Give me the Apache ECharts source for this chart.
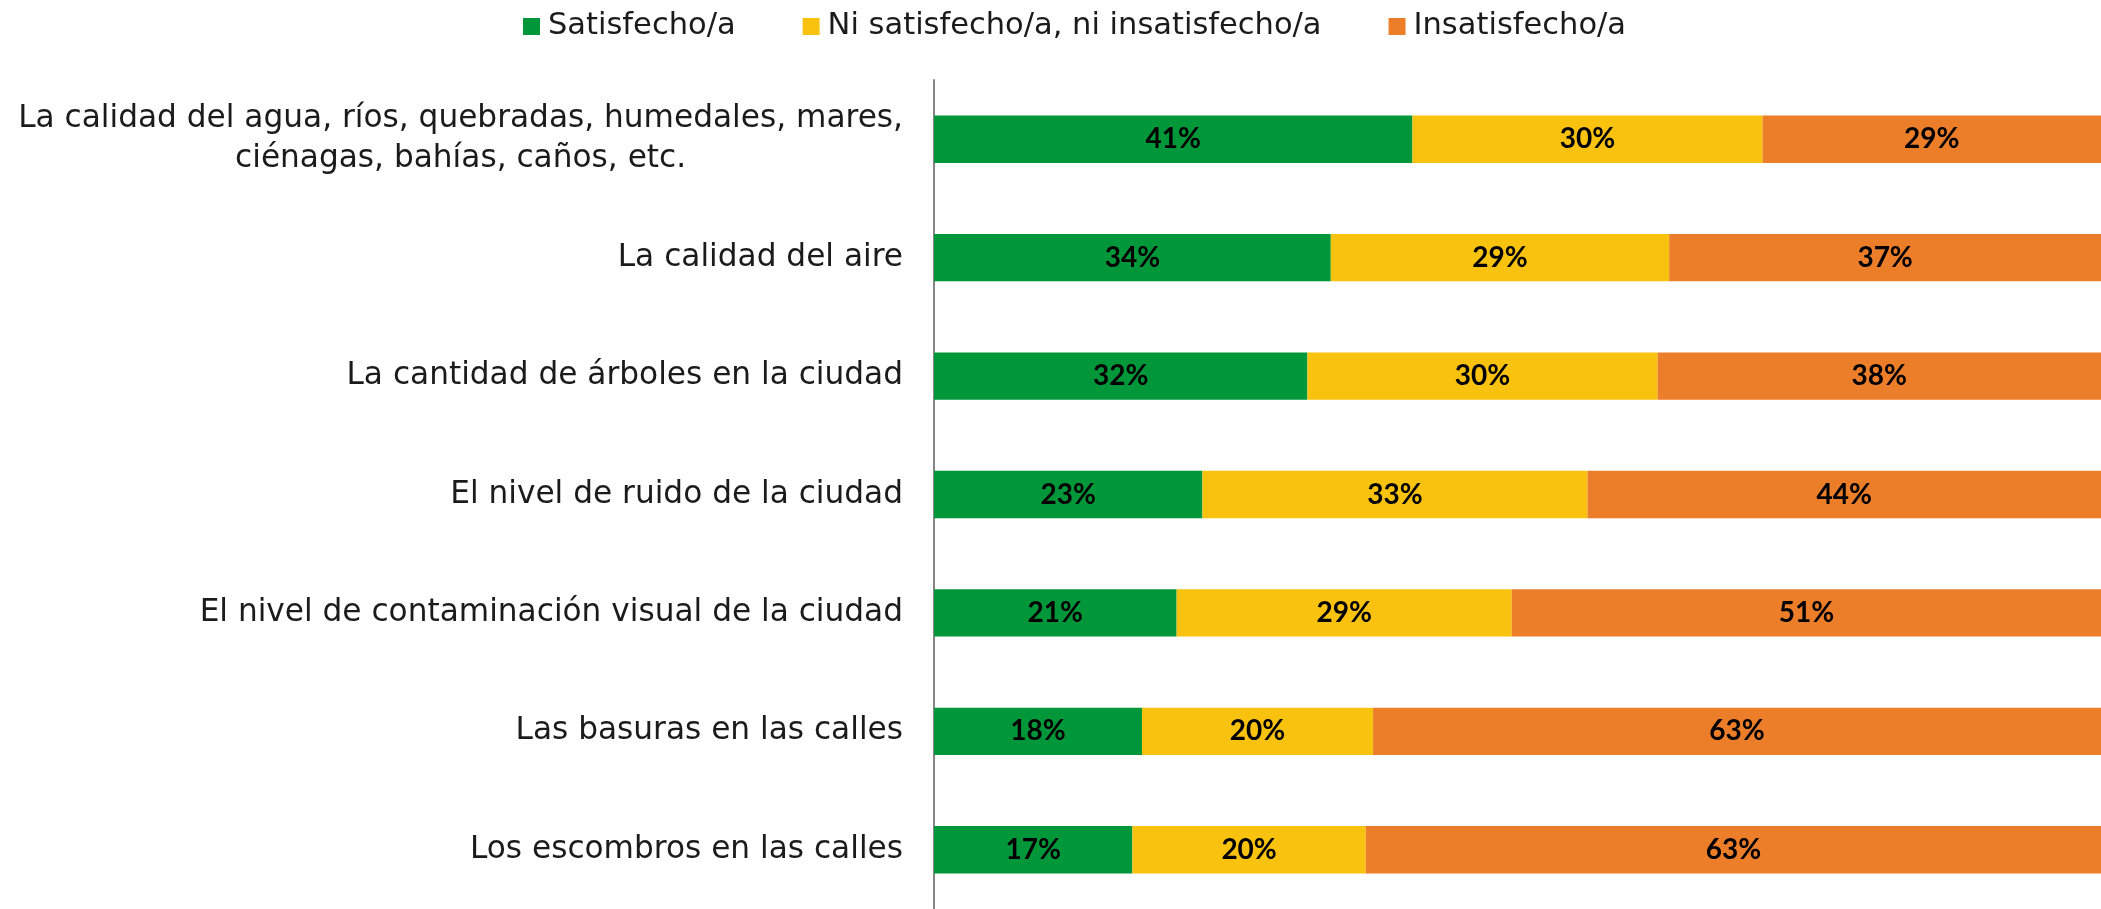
<!DOCTYPE html>
<html>
<head>
<meta charset="utf-8">
<script src="https://cdn.jsdelivr.net/npm/echarts@6/dist/echarts.min.js"></script>
<style>
  html, body { margin: 0; padding: 0; background: #ffffff; }
  #chart { width: 2101px; height: 909px; }
</style>
</head>
<body>
<div id="chart"></div>
<script>
// Satisfaction with environmental aspects of the city (percent of respondents)
const categories = [
  'La calidad del agua, ríos, quebradas, humedales, mares,\nciénagas, bahías, caños, etc.',
  'La calidad del aire',
  'La cantidad de árboles en la ciudad',
  'El nivel de ruido de la ciudad',
  'El nivel de contaminación visual de la ciudad',
  'Las basuras en las calles',
  'Los escombros en las calles'
];
const seriesNames = ['Satisfecho/a', 'Ni satisfecho/a, ni insatisfecho/a', 'Insatisfecho/a'];
const satisfecho    = [41, 34, 32, 23, 21, 18, 17];
const neutral       = [30, 29, 30, 33, 29, 20, 20];
const insatisfecho  = [29, 37, 38, 44, 51, 63, 63];

const colors = ['#00973A', '#F9C20F', '#EC7D29'];
const groups = [satisfecho, neutral, insatisfecho];

// Each row is drawn as a 100% stacked bar: segments are scaled by the row total,
// while the labels keep the reported (rounded) percentages.
const totals = categories.map((_, i) => groups.reduce((s, g) => s + g[i], 0));

const series = groups.map((vals, k) => ({
  name: seriesNames[k],
  type: 'bar',
  stack: 'total',
  barCategoryGap: '60%',
  itemStyle: { color: colors[k] },
  label: {
    show: true,
    position: 'inside',
    color: '#000',
    fontFamily: 'Lato',
    fontWeight: 'bold',
    fontSize: 28,
    formatter: p => vals[p.dataIndex] + '%'
  },
  emphasis: { disabled: true },
  data: vals.map((v, i) => v / totals[i] * 100)
}));

const chart = echarts.init(document.getElementById('chart'), null, { renderer: 'canvas' });
chart.setOption({
  animation: false,
  backgroundColor: '#ffffff',
  legend: {
    data: seriesNames,
    left: 518,
    top: 6,
    icon: 'rect',
    itemWidth: 17,
    itemHeight: 17,
    itemGap: 67,
    textStyle: { fontFamily: 'DejaVu Sans', fontSize: 30.5, color: '#1b1b1b', padding: [0, 0, 0, 3] }
  },
  grid: { left: 934, right: 0, top: 80, bottom: -6, containLabel: false },
  xAxis: {
    type: 'value',
    min: 0,
    max: 100,
    show: false
  },
  yAxis: {
    type: 'category',
    inverse: true,
    data: categories,
    axisLine: { show: true, lineStyle: { color: '#868686', width: 2 } },
    axisTick: { show: false },
    axisLabel: {
      margin: 31,
      align: 'right',
      fontFamily: 'DejaVu Sans',
      fontSize: 31.2,
      color: '#1b1b1b',
      formatter: v => v.split('\n').map(s => '{c|' + s + '}').join('\n'),
      rich: {
        c: { align: 'center', fontFamily: 'DejaVu Sans', fontSize: 31.2, color: '#1b1b1b', lineHeight: 40 }
      }
    }
  },
  series: series
});
</script>
</body>
</html>
